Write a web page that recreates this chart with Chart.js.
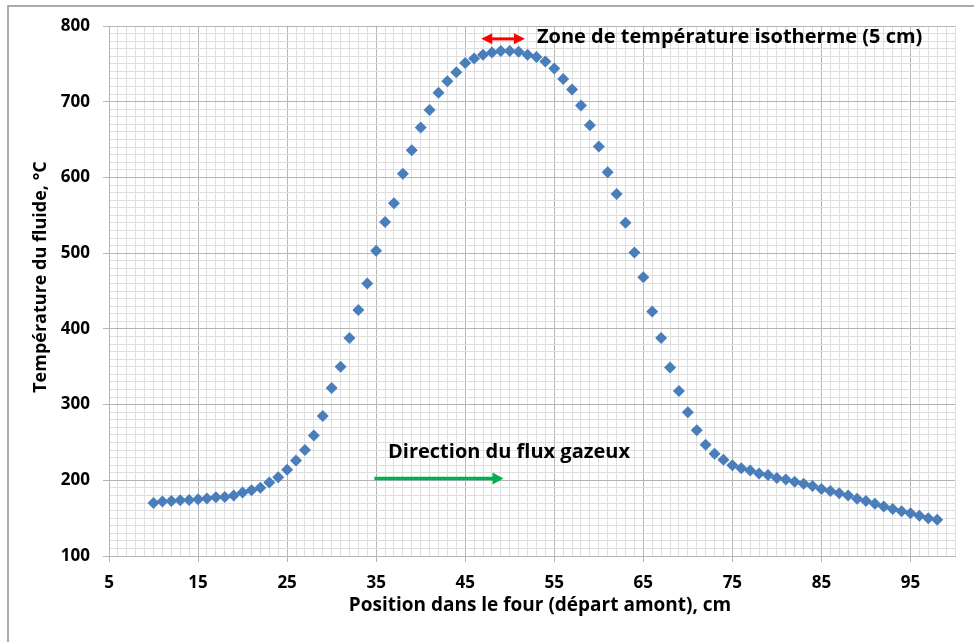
<!DOCTYPE html>
<html>
<head>
<meta charset="utf-8">
<script src="https://cdn.jsdelivr.net/npm/chart.js@4.4.1/dist/chart.umd.min.js"></script>
<style>
  html, body { margin: 0; padding: 0; background: #fff; }
  #wrap { position: relative; width: 974px; height: 642px; }
</style>
</head>
<body>
<div id="wrap"><canvas id="profile"></canvas></div>
<script>
// Positions along the furnace (cm)
const positions = [
  10, 11, 12, 13, 14, 15, 16, 17, 18, 19,
  20, 21, 22, 23, 24, 25, 26, 27, 28, 29,
  30, 31, 32, 33, 34, 35, 36, 37, 38, 39,
  40, 41, 42, 43, 44, 45, 46, 47, 48, 49,
  50, 51, 52, 53, 54, 55, 56, 57, 58, 59,
  60, 61, 62, 63, 64, 65, 66, 67, 68, 69,
  70, 71, 72, 73, 74, 75, 76, 77, 78, 79,
  80, 81, 82, 83, 84, 85, 86, 87, 88, 89,
  90, 91, 92, 93, 94, 95, 96, 97, 98
];

// Measured fluid temperature (°C)
const temperatures = [
  170, 172, 172.5, 173.5, 174, 175, 176, 177.5, 178, 180,
  184, 187, 190, 197, 204, 214, 226, 240, 259, 285,
  322, 350, 388, 425, 460, 503, 541, 566, 605, 636,
  666, 689, 712, 727, 739, 751, 757, 762, 765, 767,
  767, 766, 762, 759, 753, 744, 730, 716, 695, 669,
  641, 607, 578, 540, 501, 468, 423, 388, 349, 318,
  290, 266, 247, 235, 227, 220, 216, 213, 209, 207,
  203, 201, 198, 195.5, 192.5, 188.5, 186, 183, 180, 175.5,
  172.5, 169, 165.5, 162, 159, 156.5, 153, 150, 148
];

const xTickLabels = [5, 15, 25, 35, 45, 55, 65, 75, 85, 95];
const yTickLabels = [100, 200, 300, 400, 500, 600, 700, 800];

// Isothermal zone arrow and gas flow arrow, in data units
const isoZone = [46.8, 51.7];
const isoZoneY = 783;
const flowArrow = [34.8, 49.3];
const flowArrowY = 202.5;

const FONT = '"Open Sans", Lato, sans-serif';
const MAJOR_GRID = '#b5b5b5';
const MINOR_GRID = '#dedede';

function arrowHead(ctx, x, y, dir, len, half) {
  ctx.beginPath();
  ctx.moveTo(x, y);
  ctx.lineTo(x - dir * len, y - half);
  ctx.lineTo(x - dir * len, y + half);
  ctx.closePath();
  ctx.fill();
}

const frame = {
  id: 'frame',
  beforeDraw(chart) {
    const ctx = chart.ctx;
    ctx.save();
    ctx.strokeStyle = '#8f8f8f';
    ctx.lineWidth = 1.5;
    ctx.beginPath();
    ctx.moveTo(8, 642);
    ctx.lineTo(8, 6);
    ctx.lineTo(974, 6);
    ctx.stroke();
    ctx.restore();
  }
};

const notes = {
  id: 'notes',
  afterDraw(chart) {
    const {ctx, scales: {x, y}} = chart;
    ctx.save();

    // red double arrow over the plateau
    const ry = y.getPixelForValue(isoZoneY);
    const r0 = x.getPixelForValue(isoZone[0]);
    const r1 = x.getPixelForValue(isoZone[1]);
    ctx.strokeStyle = '#ff0000';
    ctx.fillStyle = '#ff0000';
    ctx.lineWidth = 3;
    ctx.beginPath();
    ctx.moveTo(r0 + 8, ry);
    ctx.lineTo(r1 - 8, ry);
    ctx.stroke();
    arrowHead(ctx, r0, ry, -1, 11, 5.5);
    arrowHead(ctx, r1, ry, 1, 11, 5.5);

    // green flow direction arrow
    const gy = y.getPixelForValue(flowArrowY);
    const g0 = x.getPixelForValue(flowArrow[0]);
    const g1 = x.getPixelForValue(flowArrow[1]);
    ctx.strokeStyle = '#00b050';
    ctx.fillStyle = '#00b050';
    ctx.lineWidth = 3.5;
    ctx.beginPath();
    ctx.moveTo(g0, gy);
    ctx.lineTo(g1 - 8, gy);
    ctx.stroke();
    arrowHead(ctx, g1, gy, 1, 11, 6);

    ctx.fillStyle = '#000';
    ctx.font = 'bold 20px ' + FONT;
    ctx.textAlign = 'left';
    ctx.textBaseline = 'alphabetic';
    ctx.fillText('Zone de température isotherme (5 cm)', 537, 43);
    ctx.fillText('Direction du flux gazeux', 388, 458);

    // axis titles
    ctx.textAlign = 'center';
    ctx.textBaseline = 'middle';
    ctx.font = 'bold 19px ' + FONT;
    ctx.fillText('Position dans le four (départ amont), cm', 540, 606);
    ctx.font = 'bold 18px ' + FONT;
    ctx.translate(41, 277);
    ctx.rotate(-Math.PI / 2);
    ctx.fillText('Température du fluide, °C', 0, 0);
    ctx.restore();
  }
};

new Chart(document.getElementById('profile'), {
  type: 'scatter',
  data: {
    datasets: [{
      label: 'Température du fluide',
      data: positions.map((p, i) => ({x: p, y: temperatures[i]})),
      pointStyle: 'rectRot',
      pointRadius: 6,
      pointBorderWidth: 0,
      backgroundColor: '#4a7ebb',
      borderColor: '#4a7ebb',
      showLine: false
    }]
  },
  options: {
    responsive: true,
    maintainAspectRatio: false,
    animation: false,
    layout: { padding: { left: 0, top: 26, right: 19, bottom: 0 } },
    plugins: {
      legend: { display: false },
      tooltip: { enabled: false }
    },
    scales: {
      x: {
        type: 'linear',
        min: 5,
        max: 100,
        afterFit: s => { s.height = 86; },
        border: { display: true, color: MAJOR_GRID },
        grid: {
          color: c => xTickLabels.includes(c.tick.value) ? MAJOR_GRID : MINOR_GRID,
          tickColor: c => xTickLabels.includes(c.tick.value) ? MAJOR_GRID : 'transparent',
          tickLength: 6
        },
        ticks: {
          stepSize: 1,
          autoSkip: false,
          maxRotation: 0,
          padding: 11,
          color: '#000',
          font: { family: FONT, size: 17, weight: 'bold' },
          callback: v => xTickLabels.includes(v) ? v : ''
        }
      },
      y: {
        type: 'linear',
        min: 100,
        max: 800,
        afterFit: s => { s.width = 109; },
        border: { display: true, color: MAJOR_GRID },
        grid: {
          color: c => yTickLabels.includes(c.tick.value) ? MAJOR_GRID : MINOR_GRID,
          tickColor: c => yTickLabels.includes(c.tick.value) ? MAJOR_GRID : 'transparent',
          tickLength: 6
        },
        ticks: {
          stepSize: 10,
          autoSkip: false,
          padding: 13,
          color: '#000',
          font: { family: FONT, size: 17, weight: 'bold' },
          callback: v => yTickLabels.includes(v) ? v : ''
        }
      }
    }
  },
  plugins: [frame, notes]
});
</script>
</body>
</html>
